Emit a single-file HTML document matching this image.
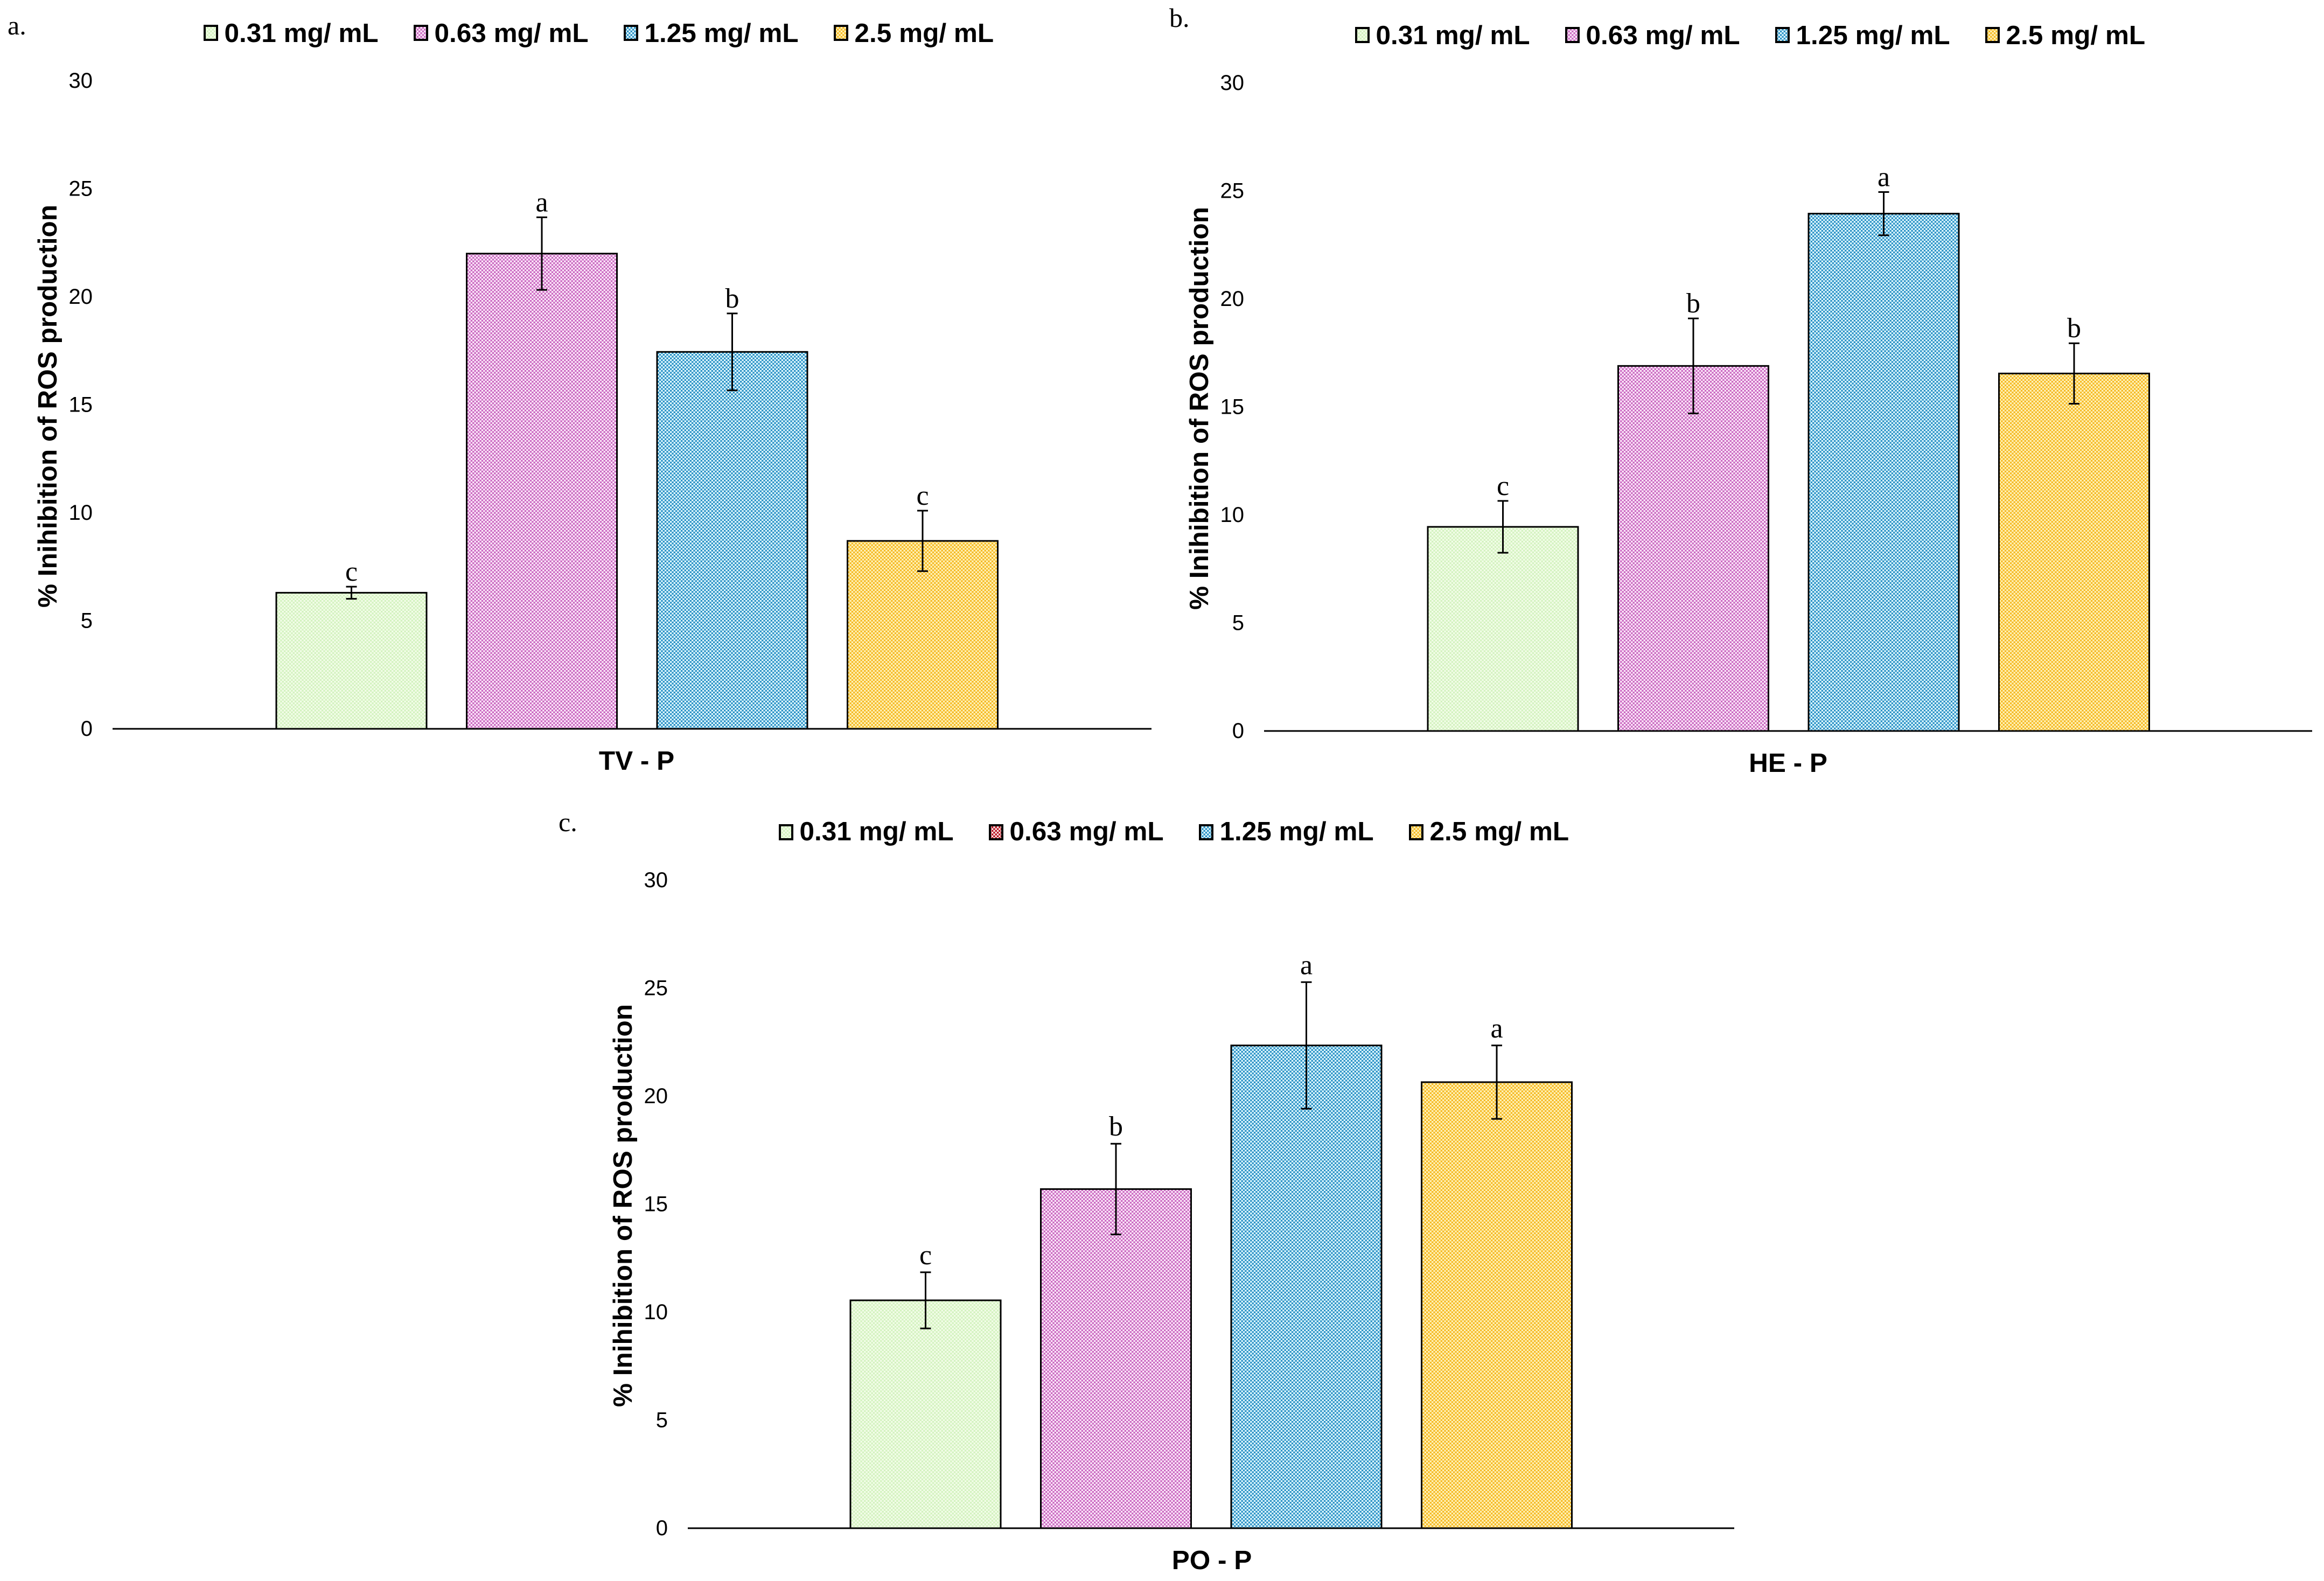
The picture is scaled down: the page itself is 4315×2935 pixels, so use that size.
<!DOCTYPE html>
<html lang="en">
<head>
<meta charset="utf-8">
<title>% Inihibition of ROS production</title>
<style>
html,body{margin:0;padding:0;background:#fff;}
body{width:4315px;height:2935px;overflow:hidden;}
svg{display:block;}
.sans{font-family:"Liberation Sans",Arial,sans-serif;fill:#000;}
.serif{font-family:"Liberation Serif","Times New Roman",serif;fill:#000;}
</style>
</head>
<body>
<svg id="chart" xmlns="http://www.w3.org/2000/svg" width="4315" height="2935" viewBox="0 0 4315 2935">
<defs>
<pattern id="p-green" width="6.67" height="6.67" patternUnits="userSpaceOnUse"><rect width="6.67" height="6.67" fill="#f3fde9"/><rect width="3.33" height="3.33" fill="#d3f2bf"/><rect x="3.33" y="3.33" width="3.34" height="3.34" fill="#d3f2bf"/></pattern>
<pattern id="p-pink" width="6.67" height="6.67" patternUnits="userSpaceOnUse"><rect width="6.67" height="6.67" fill="#fdeafb"/><rect width="3.33" height="3.33" fill="#c968c0"/><rect x="3.33" y="3.33" width="3.34" height="3.34" fill="#c968c0"/></pattern>
<pattern id="p-blue" width="6.67" height="6.67" patternUnits="userSpaceOnUse"><rect width="6.67" height="6.67" fill="#e2faff"/><rect width="3.33" height="3.33" fill="#2a90c5"/><rect x="3.33" y="3.33" width="3.34" height="3.34" fill="#2a90c5"/></pattern>
<pattern id="p-yellow" width="6.67" height="6.67" patternUnits="userSpaceOnUse"><rect width="6.67" height="6.67" fill="#fff3bd"/><rect width="3.33" height="3.33" fill="#f5b922"/><rect x="3.33" y="3.33" width="3.34" height="3.34" fill="#f5b922"/></pattern>
<pattern id="p-red" width="6.67" height="6.67" patternUnits="userSpaceOnUse"><rect width="6.67" height="6.67" fill="#fbe6e6"/><rect width="3.33" height="3.33" fill="#b81220"/><rect x="3.33" y="3.33" width="3.34" height="3.34" fill="#b81220"/></pattern>
</defs>
</svg>
<script>
// ---- chart data ----
const concentrations = ["0.31 mg/ mL", "0.63 mg/ mL", "1.25 mg/ mL", "2.5 mg/ mL"];
const yTicks = [0, 5, 10, 15, 20, 25, 30];
const yMax = 30;

const categoryA = "TV - P";
const valuesA = [6.3, 22, 17.45, 8.7];
const errorsA = [0.28, 1.68, 1.78, 1.4];
const lettersA = ["c", "a", "b", "c"];

const categoryB = "HE - P";
const valuesB = [9.45, 16.9, 23.95, 16.55];
const errorsB = [1.2, 2.2, 1.0, 1.4];
const lettersB = ["c", "b", "a", "b"];

const categoryC = "PO - P";
const valuesC = [10.55, 15.7, 22.35, 20.65];
const errorsC = [1.3, 2.1, 2.93, 1.7];
const lettersC = ["c", "b", "a", "a"];

// ---- layout ----
const NS = "http://www.w3.org/2000/svg";
const svg = document.getElementById("chart");
const plotHeight = 1203;
const barWidth = 279;
const barPitch = 353.5;
const firstBarLeft = 513;

function yScale(v, baseY) { return baseY - (v / yMax) * plotHeight; }
function xBarLeft(i, dx) { return firstBarLeft + dx + i * barPitch; }

function node(tag, parent) {
  const el = document.createElementNS(NS, tag);
  parent.appendChild(el);
  return el;
}
function setAll(el, props) {
  for (const k in props) el.setAttribute(k, props[k]);
}
function drawLine(parent, x1, y1, x2, y2, w) {
  const l = node("line", parent);
  setAll(l, { x1: x1, y1: y1, x2: x2, y2: y2, stroke: "#000", "stroke-width": w });
  return l;
}

function drawPanel(key, panelLetter, labelX, labelY, category, values, errors, letters, dx, dy, swatchFills, barShift, letterGap, axisEnd) {
  const baseY = 1353 + dy;
  const g = node("g", svg);
  
  

  const tag = node("text", g);
  setAll(tag, { x: labelX, y: labelY, "font-size": 50, class: "serif" });
  tag.textContent = panelLetter;
  
  

  // legend
  const legendLefts = [378, 768, 1158, 1548];
  concentrations.forEach(function (name, i) {
    const lg = node("g", g);
    
    
    const offsetY = key === "c" ? -2 : 0;
    const s = node("rect", lg);
    setAll(s, { x: legendLefts[i] + dx + 2, y: 48 + dy, width: 23, height: 26, fill: swatchFills[i], stroke: "#000", "stroke-width": 4 });
    const t = node("text", lg);
    setAll(t, { x: legendLefts[i] + dx + 38.5, y: 78 + dy + offsetY, "font-size": 49.5, "font-weight": "bold", class: "sans" });
    t.textContent = name;
  });

  // y tick labels
  yTicks.forEach(function (v) {
    const t = node("text", g);
    setAll(t, { x: 172 + dx, y: yScale(v, baseY) + 13, "font-size": 40, "text-anchor": "end", class: "sans" });
    t.textContent = String(v);
    
    
  });

  // y-axis title
  const yt = node("text", g);
  const ytx = 105 + dx, yty = 754 + dy;
  setAll(yt, { x: ytx, y: yty, "font-size": 49.5, "font-weight": "bold", "text-anchor": "middle", class: "sans", transform: "rotate(-90 " + ytx + " " + yty + ")" });
  yt.textContent = "% Inihibition of ROS production";
  
  

  // bars
  values.forEach(function (v, i) {
    const left = xBarLeft(i, dx + barShift);
    const top = yScale(v, baseY);
    const cx = left + barWidth / 2;
    const bar = node("rect", g);
    setAll(bar, { x: left, y: top, width: barWidth, height: baseY - top, fill: ["url(#p-green)", "url(#p-pink)", "url(#p-blue)", "url(#p-yellow)"][i], stroke: "#000", "stroke-width": 3 });
    
    

    const eTop = yScale(v + errors[i], baseY);
    const eBot = yScale(v - errors[i], baseY);
    const eg = node("g", g);
    
    
    drawLine(eg, cx, eTop, cx, eBot, 3);
    drawLine(eg, cx - 10, eTop, cx + 10, eTop, 3);
    drawLine(eg, cx - 10, eBot, cx + 10, eBot, 3);

    const sig = node("text", g);
    setAll(sig, { x: cx, y: eTop - letterGap, "font-size": 52, "text-anchor": "middle", class: "serif" });
    sig.textContent = letters[i];
    
    
  });

  // x axis
  const ax = drawLine(g, 209 + dx, baseY, axisEnd, baseY, 3);
  
  

  const xt = node("text", g);
  setAll(xt, { x: 1182 + dx, y: 1429 + dy, "font-size": 49.5, "font-weight": "bold", "text-anchor": "middle", class: "sans" });
  xt.textContent = category;
  
  
}

const fillsStandard = ["url(#p-green)", "url(#p-pink)", "url(#p-blue)", "url(#p-yellow)"];
const fillsPanelC = ["url(#p-green)", "url(#p-red)", "url(#p-blue)", "url(#p-yellow)"];

drawPanel("a", "a.", 14, 64, categoryA, valuesA, errorsA, lettersA, 0, 0, fillsStandard, 0, 11, 2138);
drawPanel("b", "b.", 2171, 50, categoryB, valuesB, errorsB, lettersB, 2138, 4, fillsStandard, 0, 11, 4293);
drawPanel("c", "c.", 1037, 1543, categoryC, valuesC, errorsC, lettersC, 1068, 1484, fillsPanelC, -2, 15, 3220);
</script>
</body>
</html>
